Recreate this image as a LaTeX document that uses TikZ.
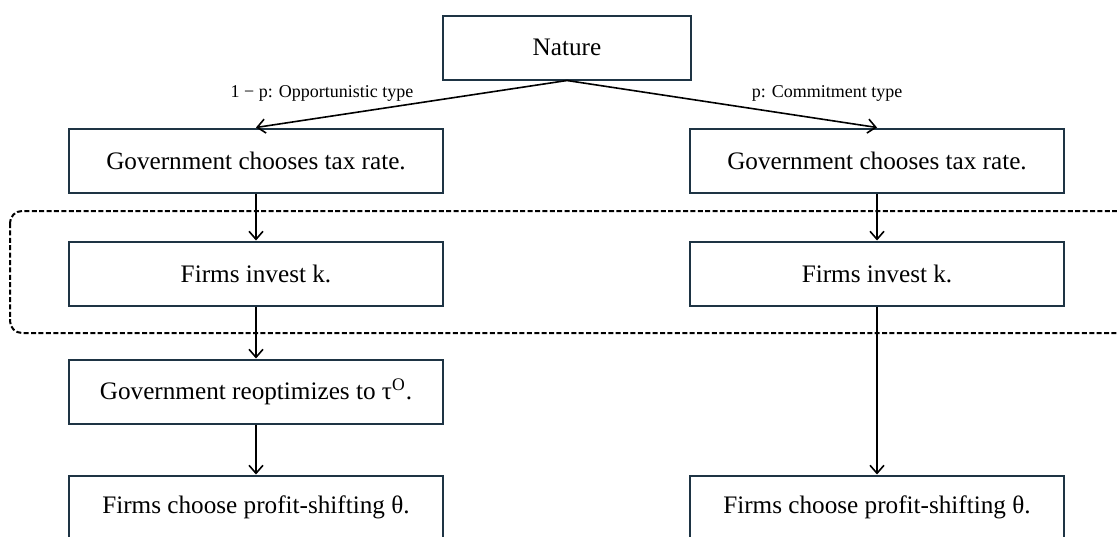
\documentclass[tikz,border=0pt]{standalone}
\usepackage{fontspec}
\setmainfont{Liberation Serif}
\usepackage{xcolor}
\usepackage{tikz}
\usetikzlibrary{arrows.meta,positioning}
\definecolor{boxnavy}{HTML}{1E3444}

\begin{document}
\begin{tikzpicture}[x=0.5pt,y=-0.5pt,>={Straight Barb[length=4pt,width=7pt]},node distance=23.5pt,
 stage/.style={draw=boxnavy,line width=1pt,minimum width=187pt,minimum height=32pt,inner sep=0pt,font=\fontsize{12.6}{14}\selectfont},
 prob/.style={font=\fontsize{9}{11}\selectfont,inner sep=0pt}]
\useasboundingbox (0,0) rectangle (1117,536);
\node[stage,minimum width=124pt] (nature) at (567,47.5) {Nature};
\node[stage] (govL) at (256,160.5) {Government chooses tax rate.};
\node[stage] (govR) at (877,160.5) {Government chooses tax rate.};
\node[stage,below=of govL] (invL) {Firms invest k.};
\node[stage,below=of govR] (invR) {Firms invest k.};
\node[stage,below=26pt of invL] (reoptL) {Government reoptimizes to τ\textsuperscript{O}.};
\node[stage,below=25pt of reoptL] (shiftL) {Firms choose profit-shifting θ.};
\node[stage] (shiftR) at (shiftL -| govR) {Firms choose profit-shifting θ.};
\node[prob] (oppo) at (322,93) {1 − p: Opportunistic type};
\node[prob] (commit) at (827,93) {p: Commitment type};
% information set
\draw[line width=1pt,dash pattern=on 2.5pt off 1.2pt,rounded corners=6pt] (10,211) rectangle (1140,333);
\draw[->,line width=0.8pt] (nature.south) -- (govL.north);
\draw[->,line width=0.8pt] (nature.south) -- (govR.north);
\draw[->,line width=0.8pt] (govL) -- (invL);
\draw[->,line width=0.8pt] (govR) -- (invR);
\draw[->,line width=0.8pt] (invL) -- (reoptL);
\draw[->,line width=0.8pt] (reoptL) -- (shiftL);
\draw[->,line width=0.8pt] (invR) -- (shiftR);
\end{tikzpicture}
\end{document}
